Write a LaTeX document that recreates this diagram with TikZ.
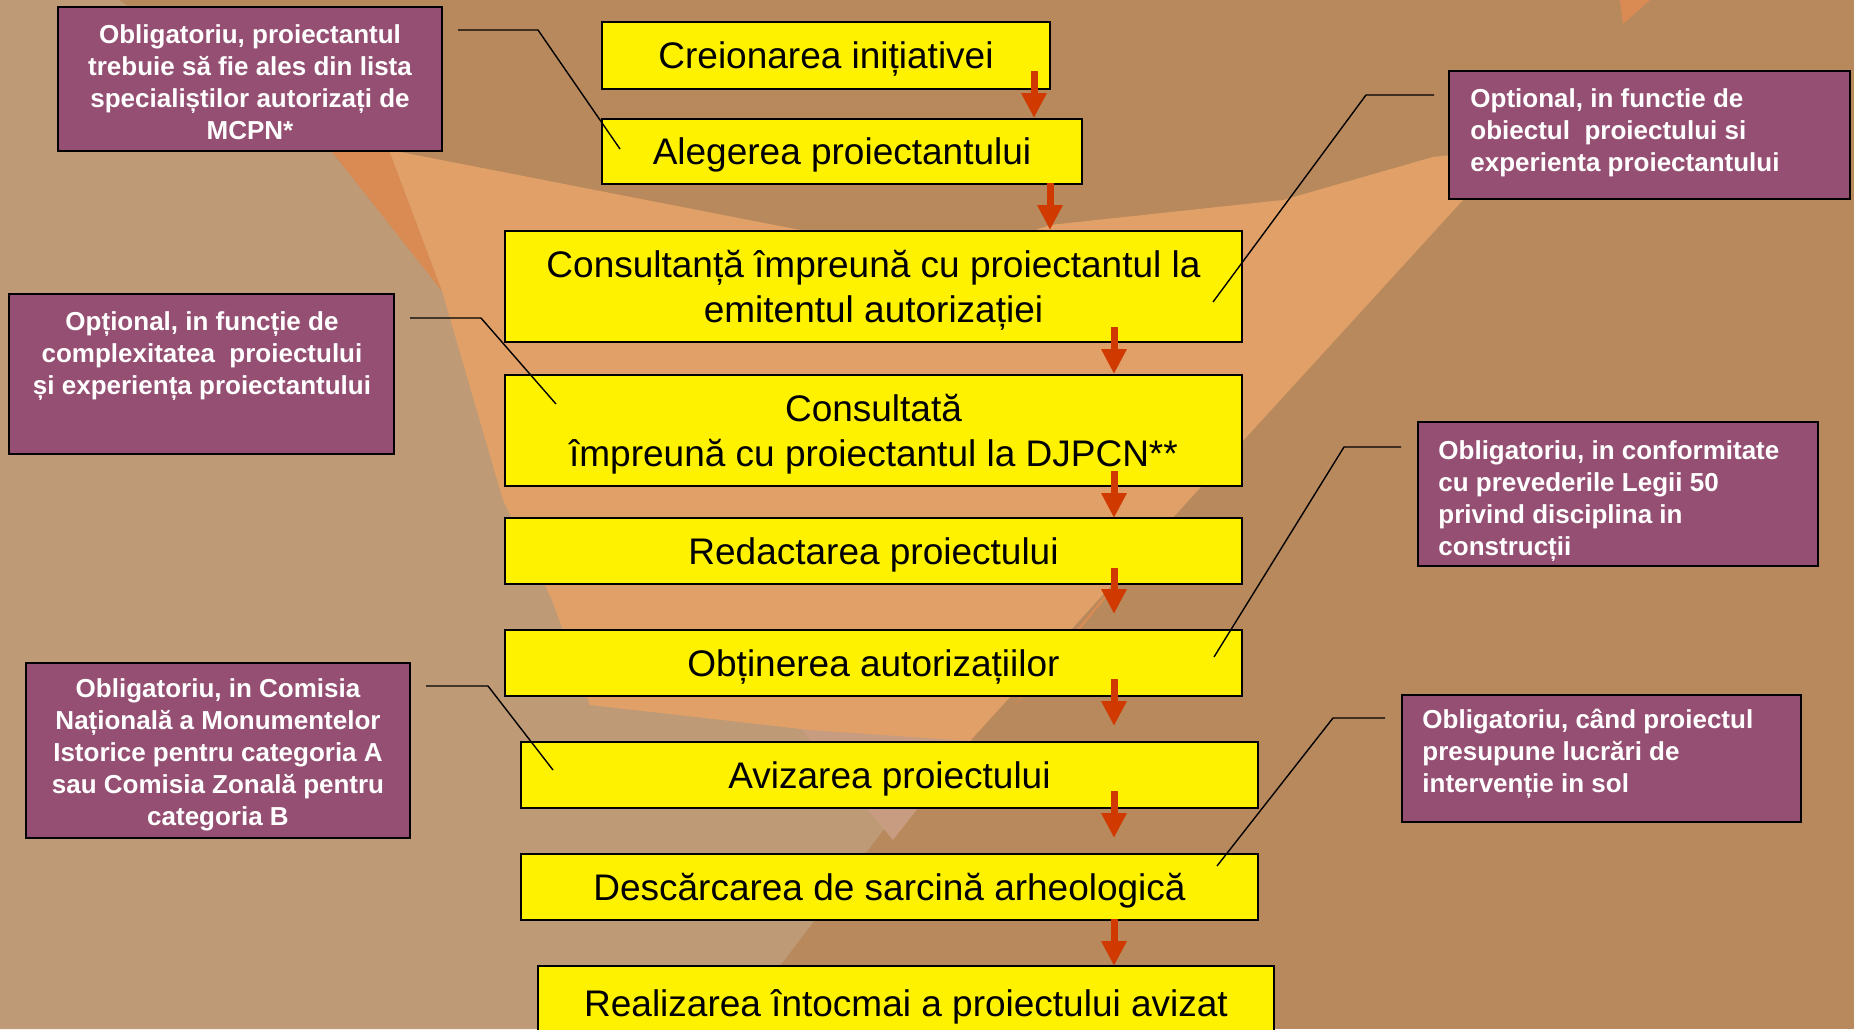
\documentclass[tikz,border=0pt]{standalone}
\usepackage{fontspec}
\setmainfont{Liberation Sans}
\usetikzlibrary{arrows.meta}
\definecolor{bgdark}{RGB}{184,137,92}
\definecolor{bglight}{RGB}{190,154,118}
\definecolor{bgpink}{RGB}{199,156,128}
\definecolor{orlight}{RGB}{225,160,103}
\definecolor{ordark}{RGB}{218,139,83}
\definecolor{boxpurple}{RGB}{149,79,114}
\definecolor{arrowred}{RGB}{208,58,0}
\newcommand{\fl}{\rule{0pt}{12pt}}
\newcommand{\ytop}{\rule{0pt}{17.3pt}}
\newcommand{\ybot}{\rule[-4pt]{0pt}{4pt}}
\begin{document}
\begin{tikzpicture}[x=0.5pt,y=-0.5pt,
  ybox/.style={draw=black, line width=1.25pt, fill=yellow, inner sep=0pt, align=center,
    font=\fontsize{18.5pt}{22.5pt}\selectfont},
  yone/.style={ybox, text height=17.3pt, text depth=4pt},
  pbox/.style={draw=black, line width=1.25pt, fill=boxpurple, inner sep=0pt},
  ptxt/.style={text=white, inner sep=0pt, font=\bfseries\fontsize{13pt}{16pt}\selectfont},
  leader/.style={draw=black, line width=0.7pt},
  redarrow/.style={draw=arrowred, line width=3.5pt, -{Triangle[width=12pt,length=12.5pt]}}]
\useasboundingbox (0,0) rectangle (1854,1029);
\begin{scope}
\clip (0,0) rectangle (1854,1029);
% background
\fill[bgdark] (0,0) rectangle (1854,1029);
\fill[bglight] (0,0) -- (119,0) -- (333,153) -- (442,291) -- (1142,490) -- (732,1029) -- (0,1029) -- cycle;
\fill[bgpink] (800,728) -- (975,735) -- (893,840) -- cycle;
\fill[ordark] (299,110) -- (374,110) -- (442,291) -- cycle;
\fill[orlight] (374,110) -- (390,150) -- (800,230) -- (1000,242) -- (1050,225) -- (1283,200)
  -- (1433,157) -- (1500,150) -- (1463,200) -- (1189,500) -- (970,741) -- (810,730) -- (590,705)
  -- (552,600) -- (503,500) -- (442,291) -- cycle;
\fill[ordark] (1160,532) -- (1128,567) -- (1040,675) -- (1014,705) -- (1030,690) -- cycle;
\fill[ordark] (1620,0) -- (1650,0) -- (1623,24) -- cycle;
% last step (cut by the page edge)
\node[yone, minimum width=368pt, minimum height=37pt] (realizare) at (906,1003) {Realizarea întocmai a proiectului avizat};
\end{scope}

% side notes
\node[pbox, minimum width=192pt, minimum height=72pt] (p1) at (250,79) {};
\node[ptxt, anchor=north, align=center] (p1t) at (250,19) {\fl Obligatoriu, proiectantul\\trebuie să fie ales din lista\\specialiștilor autorizați de\\MCPN*};

\node[pbox, minimum width=192.5pt, minimum height=80pt] (p2) at (201.5,374) {};
\node[ptxt, anchor=north, align=center] (p2t) at (202,306) {\fl Opțional, in funcție de\\complexitatea\ \ proiectului\\și experiența proiectantului};

\node[pbox, minimum width=200.5pt, minimum height=64pt] (p3) at (1649.5,135) {};
\node[ptxt, anchor=north west, align=left] (p3t) at (1470,83) {\fl Optional, in functie de\\obiectul\ \ proiectului si\\experienta proiectantului};

\node[pbox, minimum width=200pt, minimum height=72pt] (p4) at (1618,494) {};
\node[ptxt, anchor=north west, align=left] (p4t) at (1438,435) {\fl Obligatoriu, in conformitate\\cu prevederile Legii 50\\privind disciplina in\\construcții};

\node[pbox, minimum width=192pt, minimum height=87.5pt] (p5) at (218,750.5) {};
\node[ptxt, anchor=north, align=center] (p5t) at (218,673) {\fl Obligatoriu, in Comisia\\Națională a Monumentelor\\Istorice pentru categoria A\\sau Comisia Zonală pentru\\categoria B};

\node[pbox, minimum width=199.5pt, minimum height=63.5pt] (p6) at (1601.5,758.5) {};
\node[ptxt, anchor=north west, align=left] (p6t) at (1422,704) {\fl Obligatoriu, când proiectul\\presupune lucrări de\\intervenție in sol};

% steps
\node[yone, minimum width=224pt, minimum height=33.5pt] (creion) at (826,55.5) {Creionarea inițiativei};
\node[yone, minimum width=240pt, minimum height=32.5pt] (alegere) at (842,151.5) {Alegerea proiectantului};
\node[ybox, minimum width=368.5pt, minimum height=55.5pt] (consultanta) at (873.5,286.5) {\ytop Consultanță împreună cu proiectantul la\\emitentul autorizației\ybot};
\node[ybox, minimum width=368.5pt, minimum height=55.5pt] (consultata) at (873.5,430.5) {\ytop Consultată\\împreună cu proiectantul la DJPCN**\ybot};
\node[yone, minimum width=368.5pt, minimum height=33pt] (redactare) at (873.5,551) {Redactarea proiectului};
\node[yone, minimum width=368.5pt, minimum height=33pt] (obtinere) at (873.5,663) {Obținerea autorizațiilor};
\node[yone, minimum width=368.5pt, minimum height=33pt] (avizare) at (889.5,775) {Avizarea proiectului};
\node[yone, minimum width=368.5pt, minimum height=33pt] (descarcare) at (889.5,887) {Descărcarea de sarcină arheologică};

% leader lines
\coordinate (l1a) at (458,30);   \coordinate (l1b) at (620,149);
\coordinate (l2a) at (410,318);  \coordinate (l2b) at (556,404);
\coordinate (l3a) at (1434,95);  \coordinate (l3b) at (1213,302);
\coordinate (l4a) at (1401,447); \coordinate (l4b) at (1214,657);
\coordinate (l5a) at (426,686);  \coordinate (l5b) at (553,770);
\coordinate (l6a) at (1385,718); \coordinate (l6b) at (1217,866);
\draw[leader] (l1a) -- (538,30) -- (l1b);
\draw[leader] (l2a) -- (481,318) -- (l2b);
\draw[leader] (l3a) -- (1366,95) -- (l3b);
\draw[leader] (l4a) -- (1344,447) -- (l4b);
\draw[leader] (l5a) -- (488,686) -- (l5b);
\draw[leader] (l6a) -- (1333,718) -- (l6b);

% arrows
\coordinate (a1s) at (1034,71);  \coordinate (a1e) at (1034,118);
\coordinate (a2s) at (1050,183); \coordinate (a2e) at (1050,230);
\coordinate (a3s) at (1114,327); \coordinate (a3e) at (1114,374);
\coordinate (a4s) at (1114,471); \coordinate (a4e) at (1114,518);
\coordinate (a5s) at (1114,568); \coordinate (a5e) at (1114,614);
\coordinate (a6s) at (1114,679); \coordinate (a6e) at (1114,726);
\coordinate (a7s) at (1114,791); \coordinate (a7e) at (1114,838);
\coordinate (a8s) at (1114,919); \coordinate (a8e) at (1114,966);
\foreach \i in {1,...,8} \draw[redarrow] (a\i s) -- (a\i e);
\end{tikzpicture}
\end{document}
